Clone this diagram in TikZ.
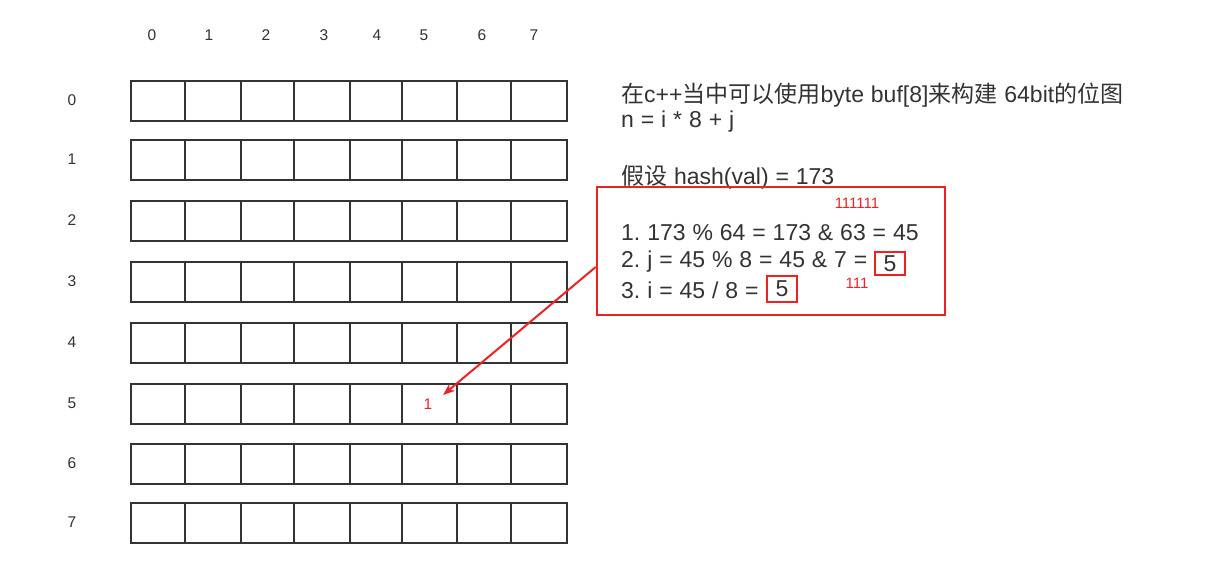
\documentclass[tikz,border=0pt]{standalone}
\usepackage{fontspec}
\setmainfont[WordSpace=1.08]{Liberation Sans}
\newfontfamily\cjk{Noto Sans CJK SC}
\usetikzlibrary{arrows.meta}
\definecolor{ink}{HTML}{333333}
\definecolor{hl}{HTML}{EE2222}
\frenchspacing
\begin{document}
\begin{tikzpicture}[x=1pt,y=-1pt,
  cellbox/.style={draw=ink,line width=2.4pt,minimum width=#1,minimum height=40pt,inner sep=0pt,anchor=north west},
  idx/.style={text=ink,font=\fontsize{15.5}{15.5}\selectfont},
  txt/.style={text=ink,font=\fontsize{23}{23}\selectfont,anchor=west,inner sep=0pt},
  redtxt/.style={text=hl,font=\fontsize{15}{15}\selectfont,inner sep=0pt},
  redbox/.style={draw=hl,line width=2.6pt,inner sep=0pt}]
\useasboundingbox (0,0) rectangle (1222,587);
\fill[white] (0,0) rectangle (1222,587);
% column labels
\foreach \x/\l in {152/0,209/1,266/2,324/3,377/4,424/5,482/6,534/7}
  \node[idx] (col\l) at (\x,35) {\l};
% grid
\foreach \r/\t in {0/80,1/139,2/200,3/261,4/322,5/383,6/443,7/502}{
  \node[idx] (row\r) at (72,\t+20) {\r};
  \foreach \c/\a/\b in {0/130/184,1/184/240,2/240/293,3/293/349,4/349/401,5/401/456,6/456/510,7/510/566}{
    \pgfmathsetmacro{\w}{\b-\a}
    \node[cellbox=\w pt] (c\r\c) at (\a,\t) {};
  }
}
\node[redtxt,font=\fontsize{15.5}{15.5}\selectfont] (one) at (428,404) {1};
% text
\node[txt] (l1) at (621,95) {{\cjk 在}c++{\cjk 当中可以使用}byte buf[8]{\cjk 来构建} 64bit{\cjk 的位图}};
\node[txt] (l2) at (621,122) {n = i * 8 + j};
\node[txt] (l3) at (621,177) {{\cjk 假设} hash(val) = 173};
\node[redbox,minimum width=348pt,minimum height=128pt] (rb) at (771,251) {};
\node[redtxt] (b6) at (857,203) {111111};
\node[txt] (e1) at (621,233) {1. 173 \% 64 = 173 \& 63 = 45};
\node[txt] (e2) at (621,262) {2. j = 45 \% 8 = 45 \& 7 =};
\node[txt] (e3) at (621,290) {3. i = 45 / 8 =};
\node[redtxt] (b3) at (857,283) {111};
\node[redbox,txt,anchor=center,text=ink,minimum width=30pt,minimum height=23pt] (k1) at (890,263.5) {5};
\node[redbox,txt,anchor=center,text=ink,minimum width=30pt,minimum height=26pt] (k2) at (782,289) {5};
% arrow
\coordinate (as) at (rb.west |- 0,267);
\coordinate (at) at (443,395);
\draw[hl,line width=2pt,-{Stealth[length=12pt,width=9pt]}] (as) -- (at);
\end{tikzpicture}
\end{document}
